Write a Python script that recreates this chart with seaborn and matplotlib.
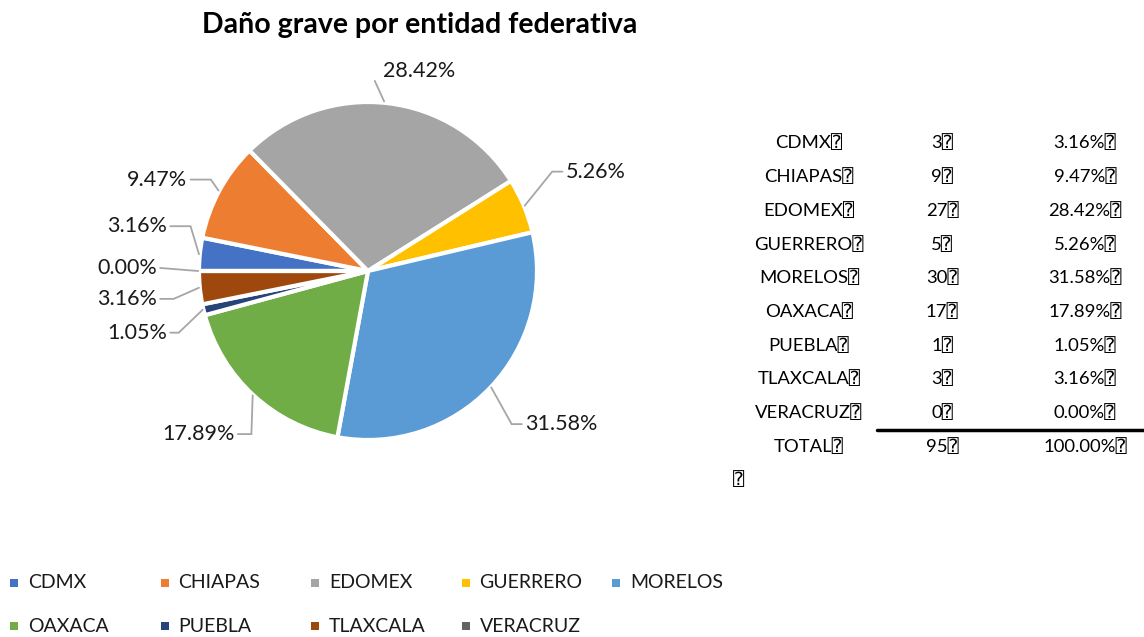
import numpy as np
import matplotlib
matplotlib.use("Agg")
import matplotlib.pyplot as plt
import seaborn as sns

# Data
estados = ["CDMX", "CHIAPAS", "EDOMEX", "GUERRERO", "MORELOS",
           "OAXACA", "PUEBLA", "TLAXCALA", "VERACRUZ"]
casos = [3, 9, 27, 5, 30, 17, 1, 3, 0]
colores = ["#4472C4", "#ED7D31", "#A5A5A5", "#FFC000", "#5B9BD5",
           "#70AD47", "#264478", "#9E480E", "#636363"]
titulo = "Daño grave por entidad federativa"
BOX = "\u2370"

sns.set_theme(style="white")
plt.rcParams["font.family"] = ["Lato", "DejaVu Sans Mono", "DejaVu Sans"]
palette = sns.color_palette(colores)

W, H = 1144, 637
fig = plt.figure(figsize=(W / 100, H / 100), dpi=100)
fig.patch.set_facecolor("white")

total = sum(casos)
pcts = [100 * c / total for c in casos]

# ---- Pie ----
R_PX = 169
cx, cy = 368, H - 271
half = 1.6 * R_PX
ax = fig.add_axes([(cx - half) / W, (cy - half) / H, 2 * half / W, 2 * half / H])

wedges, _ = ax.pie(casos, colors=palette, startangle=180, counterclock=False,
                   radius=1.0,
                   wedgeprops=dict(edgecolor="white", linewidth=3.0))
ax.set_xlim(-1.6, 1.6)
ax.set_ylim(-1.6, 1.6)
ax.set_aspect("equal")
ax.axis("off")

# label layout: text anchor (x, y) in radius units, side of leader line
label_pos = [(-1.19, 0.265), (-1.07, 0.541), (0.30, 1.185), (1.17, 0.588),
             (0.93, -0.906), (-0.79, -0.965), (-1.19, -0.365), (-1.25, -0.165),
             (-1.25, 0.018)]
label_ha = ["right", "right", "center", "left", "left", "right", "right",
            "right", "right"]
seg_len = [0.12, 0.12, 0.0, 0.06, 0.06, 0.08, 0.05, 0.08, 0.0]

line_col = "#A6A6A6"
for w, p, (tx, ty), ha, sl in zip(wedges, pcts, label_pos, label_ha, seg_len):
    mid = np.deg2rad((w.theta1 + w.theta2) / 2)
    ex, ey = np.cos(mid) * 1.0, np.sin(mid) * 1.0
    ax.text(tx, ty, f"{p:.2f}%", ha=ha, va="center", fontsize=15.5,
            color="#1a1a1a")
    if ha == "right":
        x0 = tx + 0.02
        pts = [(x0, ty), (x0 + sl, ty), (ex - 0.005, ey)]
    elif ha == "left":
        x0 = tx - 0.02
        pts = [(x0, ty), (x0 - sl, ty), (ex + 0.005, ey)]
    else:
        pts = [(tx - 0.26, ty - 0.06), (ex - 0.02, ey + 0.01)]
    xs, ys = zip(*pts)
    ax.plot(xs, ys, color=line_col, lw=1.3, solid_joinstyle="miter",
            clip_on=False)

fig.text(420 / W, 1 - 25 / H, titulo, ha="center", va="center",
         fontsize=20.5, fontweight="bold", color="black")

# ---- Table ----
row_y = [143 + 33.7 * i for i in range(len(estados) + 1)]
col_x = [809, 942, 1085]
nombres = estados + ["TOTAL"]
valores = casos + [total]
porcentajes = pcts + [100.0]
for y, n, v, p in zip(row_y, nombres, valores, porcentajes):
    for x, s in zip(col_x, [n, f"{v}", f"{p:.2f}%"]):
        fig.text(x / W, 1 - y / H, s + BOX, ha="center", va="center",
                 fontsize=13.3, color="black")
fig.text(738 / W, 1 - 480 / H, BOX, ha="center", va="center",
         fontsize=13.3, color="black")
sep_y = 1 - 430 / H
fig.add_artist(plt.Line2D([877 / W, 1.0], [sep_y, sep_y], color="black",
                          lw=2.5, transform=fig.transFigure))

# ---- Legend ----
lax = fig.add_axes([0, 0, 1, 1], facecolor="none")
lax.set_xlim(0, W)
lax.set_ylim(H, 0)
lax.axis("off")
for i, (n, c) in enumerate(zip(estados, palette)):
    row, col = divmod(i, 5)
    x = 14 + 150.5 * col
    y = 583 + 43 * row
    lax.scatter([x], [y], marker="s", s=40, color=c, linewidths=0)
    lax.text(x + 14, y, n, ha="left", va="center", fontsize=14,
             color="#1a1a1a")

fig.savefig("out.png", dpi=100, facecolor="white")
